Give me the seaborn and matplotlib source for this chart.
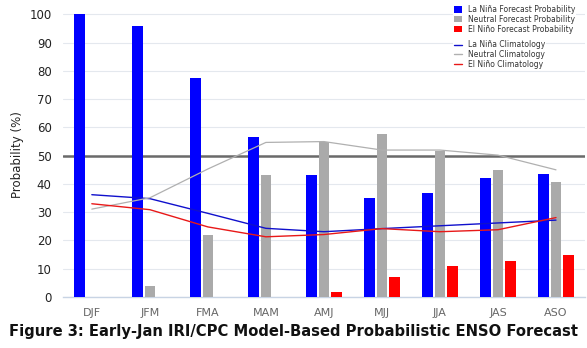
import matplotlib
matplotlib.use("Agg")
import matplotlib.pyplot as plt
import seaborn as sns
import pandas as pd
from matplotlib.patches import Patch
from matplotlib.lines import Line2D

seasons = ["DJF", "JFM", "FMA", "MAM", "AMJ", "MJJ", "JJA", "JAS", "ASO"]
lanina_prob = [100, 96, 77.5, 56.5, 43, 35, 36.7, 42, 43.7]
neutral_prob = [0, 3.8, 22, 43, 54.8, 57.6, 51.8, 44.8, 40.6]
elnino_prob = [0, 0, 0, 0, 1.6, 6.9, 10.8, 12.8, 14.9]
lanina_clim = [36.2, 34.8, 29.6, 24.3, 23.1, 24.2, 25.2, 26.2, 27.2]
neutral_clim = [31.1, 35.1, 45.3, 54.7, 55.0, 52.0, 52.0, 50.2, 45.0]
elnino_clim = [33.0, 30.9, 24.8, 21.3, 22.1, 24.2, 23.1, 23.8, 28.1]

bar_labels = ["La Niña Forecast Probability", "Neutral Forecast Probability", "El Niño Forecast Probability"]
line_labels = ["La Niña Climatology", "Neutral Climatology", "El Niño Climatology"]
bar_colors = ["#0000ff", "#aaaaaa", "#ff0000"]
line_colors = ["#1010cc", "#b0b0b0", "#e81818"]

df = pd.DataFrame({
    "season": seasons * 3,
    "prob": lanina_prob + neutral_prob + elnino_prob,
    "kind": [bar_labels[0]] * 9 + [bar_labels[1]] * 9 + [bar_labels[2]] * 9,
})

sns.set_theme(style="white")
plt.rcParams["font.family"] = ["DejaVu Sans"]

fig = plt.figure(figsize=(5.87, 3.48), dpi=100)
ax = fig.add_axes([0.107, 0.1466, 0.8896, 0.816])

sns.barplot(data=df, x="season", y="prob", hue="kind", palette=bar_colors,
            width=0.64, gap=0.14, order=seasons, hue_order=bar_labels,
            legend=False, ax=ax, zorder=3, saturation=1, linewidth=0, edgecolor="none")

for vals, c, lw in zip([lanina_clim, neutral_clim, elnino_clim], line_colors, [1.0, 0.9, 1.0]):
    sns.lineplot(x=list(range(len(seasons))), y=vals, color=c, lw=lw, ax=ax, zorder=4)

ax.set_xlim(-0.5, 8.5)
ax.set_ylim(0, 100.5)
ax.set_yticks(range(0, 101, 10))
ax.grid(axis="y", color="#e4e8ee", lw=0.8, zorder=0)
ax.axhline(50, color="#6a6a6a", lw=1.8, zorder=2)
for s in ["top", "right", "left"]:
    ax.spines[s].set_visible(False)
ax.spines["bottom"].set_color("#c8d4e4")
ax.spines["bottom"].set_linewidth(1.0)
ax.tick_params(axis="y", length=0, labelsize=8.5, labelcolor="#222222", pad=8)
ax.tick_params(axis="x", length=0, labelsize=8, labelcolor="#666666", pad=8)
ax.set_xlabel("")
ax.set_ylabel("Probability (%)", fontsize=8.5, color="#222222", labelpad=4)

common = dict(fontsize=5.5, frameon=True, facecolor="white", edgecolor="none",
              framealpha=1, handlelength=1.0, handletextpad=0.8, handleheight=0.9,
              labelspacing=0.12, borderpad=0.15, labelcolor="#333333",
              bbox_transform=fig.transFigure)
h1 = [Patch(facecolor=c, edgecolor="none") for c in bar_colors]
leg1 = ax.legend(h1, bar_labels, loc="upper left", bbox_to_anchor=(0.765, 1.0), **common)
leg1.set_zorder(6)
ax.add_artist(leg1)
h2 = [Line2D([], [], color=c, lw=1) for c in line_colors]
leg2 = ax.legend(h2, line_labels, loc="upper left", bbox_to_anchor=(0.765, 0.898), **common)
leg2.set_zorder(6)

fig.text(0.5, 0.035, "Figure 3: Early-Jan IRI/CPC Model-Based Probabilistic ENSO Forecast",
         ha="center", va="baseline", fontsize=10.6, fontweight="bold", color="#111111")

fig.savefig("out.png", dpi=100, facecolor="white")
